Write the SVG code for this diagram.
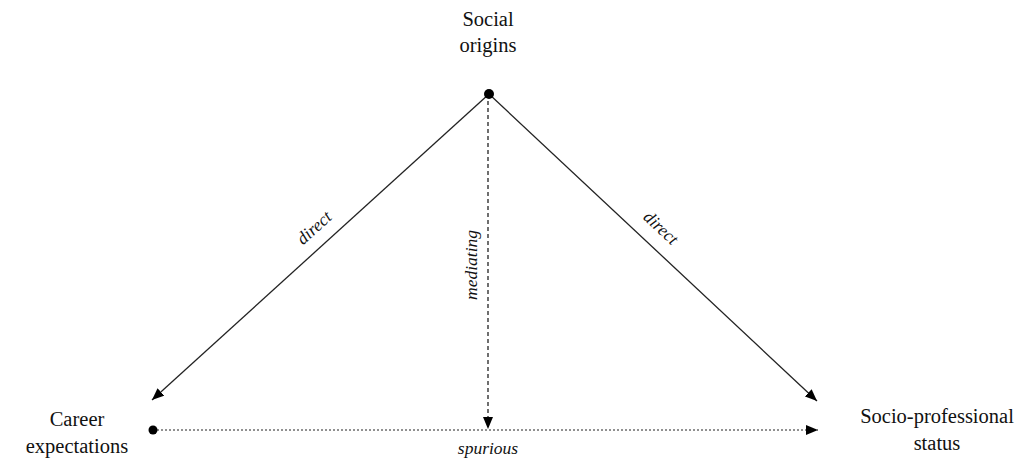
<svg xmlns="http://www.w3.org/2000/svg" width="1016" height="459" viewBox="0 0 1016 459">
<style>
.lbl{font-family:"Liberation Serif","DejaVu Serif",serif;font-size:20.5px;fill:#111;text-anchor:middle}
.it{font-family:"Liberation Serif","DejaVu Serif",serif;font-size:17.5px;font-style:italic;fill:#111;text-anchor:middle}
.solid{stroke:#222;stroke-width:1.3;fill:none}
.dash{stroke:#222;stroke-width:1.3;fill:none;stroke-dasharray:4 3}
.dot{stroke:#222;stroke-width:1;fill:none;stroke-dasharray:2 2}
</style>
<defs>
<marker id="ah" viewBox="0 0 12 10" refX="12" refY="5" markerWidth="12" markerHeight="10" markerUnits="userSpaceOnUse" orient="auto">
<path d="M0,0 L12,5 L0,10 Z" fill="#000"/>
</marker>
</defs>
<rect width="1016" height="459" fill="#fff"/>
<g id="connectors">
<line class="solid" x1="489" y1="94" x2="152" y2="400" marker-end="url(#ah)"/>
<line class="solid" x1="489" y1="94" x2="817" y2="401" marker-end="url(#ah)"/>
<line class="dash" x1="488" y1="94" x2="488" y2="429" marker-end="url(#ah)"/>
<line class="dot" x1="153" y1="430" x2="818" y2="430" marker-end="url(#ah)"/>
<text class="it" transform="translate(318,232) rotate(-42)">direct</text>
<text class="it" transform="translate(657,232) rotate(43)">direct</text>
<text class="it" transform="translate(477,265) rotate(-90)">mediating</text>
<text class="it" x="488" y="454">spurious</text>
</g>
<g id="social-origins">
<circle cx="489" cy="94" r="5" fill="#000"/>
<text class="lbl" x="488" y="26">Social</text>
<text class="lbl" x="488" y="52">origins</text>
</g>
<g id="career-expectations">
<circle cx="153" cy="430" r="4.5" fill="#000"/>
<text class="lbl" x="77" y="426">Career</text>
<text class="lbl" x="77" y="453">expectations</text>
</g>
<g id="socio-professional-status">
<text class="lbl" x="937" y="423">Socio-professional</text>
<text class="lbl" x="937" y="450">status</text>
</g>
</svg>
